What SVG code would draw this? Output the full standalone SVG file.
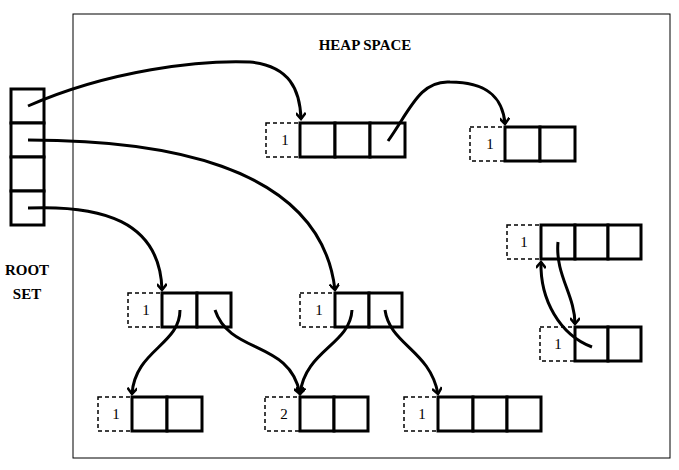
<svg xmlns="http://www.w3.org/2000/svg" width="679" height="470" viewBox="0 0 679 470">
<style>
.c{fill:#fff;stroke:#000;stroke-width:3}
.d{fill:none;stroke:#000;stroke-width:1.5;stroke-dasharray:4 3}
.n{font-family:"Liberation Serif",serif;font-size:15px;text-anchor:middle}
.t{font-family:"Liberation Serif",serif;font-size:15px;font-weight:bold;text-anchor:middle}
.a{fill:none;stroke:#000;stroke-width:3;marker-end:url(#m)}
</style>
<defs><marker id="m" markerWidth="10" markerHeight="10" refX="7" refY="5" orient="auto" markerUnits="userSpaceOnUse" viewBox="0 0 10 10"><path d="M1,0 L7,5 L1,10" fill="none" stroke="#000" stroke-width="2.5"/></marker></defs>
<rect width="679" height="470" fill="#fff"/>
<rect x="73" y="14" width="597" height="444" fill="none" stroke="#000" stroke-width="1"/>
<text class="t" x="365" y="50">HEAP SPACE</text>
<g id="root"><rect class="c" x="11" y="89" width="33" height="34"/><rect class="c" x="11" y="123" width="33" height="34"/><rect class="c" x="11" y="157" width="33" height="34"/><rect class="c" x="11" y="191" width="33" height="34"/>
<text class="t" x="27" y="275">ROOT</text><text class="t" x="27" y="299">SET</text></g>
<g id="A"><rect class="d" x="266" y="123" width="34" height="34"/><text class="n" x="285" y="145">1</text><rect class="c" x="300" y="123" width="35" height="34"/><rect class="c" x="335" y="123" width="35" height="34"/><rect class="c" x="370" y="123" width="35" height="34"/></g>
<g id="B"><rect class="d" x="470" y="127" width="35" height="34"/><text class="n" x="490" y="149">1</text><rect class="c" x="505" y="127" width="35" height="34"/><rect class="c" x="540" y="127" width="35" height="34"/></g>
<g id="C"><rect class="d" x="507" y="225" width="34" height="34"/><text class="n" x="524" y="247">1</text><rect class="c" x="541" y="225" width="34" height="34"/><rect class="c" x="575" y="225" width="33" height="34"/><rect class="c" x="608" y="225" width="33" height="34"/></g>
<g id="D"><rect class="d" x="540" y="327" width="35" height="34"/><text class="n" x="558" y="349">1</text><rect class="c" x="575" y="327" width="33" height="34"/><rect class="c" x="608" y="327" width="33" height="34"/></g>
<g id="E"><rect class="d" x="128" y="293" width="34" height="34"/><text class="n" x="146" y="315">1</text><rect class="c" x="162" y="293" width="35" height="34"/><rect class="c" x="197" y="293" width="34" height="34"/></g>
<g id="F"><rect class="d" x="300" y="293" width="35" height="34"/><text class="n" x="319" y="315">1</text><rect class="c" x="335" y="293" width="34" height="34"/><rect class="c" x="369" y="293" width="33" height="34"/></g>
<g id="G"><rect class="d" x="98" y="397" width="34" height="34"/><text class="n" x="116" y="419">1</text><rect class="c" x="132" y="397" width="35" height="34"/><rect class="c" x="167" y="397" width="35" height="34"/></g>
<g id="H"><rect class="d" x="265" y="397" width="35" height="34"/><text class="n" x="284" y="419">2</text><rect class="c" x="300" y="397" width="34" height="34"/><rect class="c" x="334" y="397" width="34" height="34"/></g>
<g id="I"><rect class="d" x="404" y="397" width="34" height="34"/><text class="n" x="422" y="419">1</text><rect class="c" x="438" y="397" width="35" height="34"/><rect class="c" x="473" y="397" width="34" height="34"/><rect class="c" x="507" y="397" width="34" height="34"/></g>
<g id="connectors">
<path class="a" d="M28,106 C110,70 200,60 250,62 C290,66 300,90 301,119"/>
<path class="a" d="M28,140 C150,140 320,160 335,290"/>
<path class="a" d="M28,208 C100,205 160,220 162,290"/>
<path class="a" d="M388,141 C410,110 420,80 450,82 C490,82 503,100 505,124"/>
<path class="a" d="M180,310 C180,345 135,350 132,394"/>
<path class="a" d="M215,310 C230,355 290,340 300,394"/>
<path class="a" d="M352,310 C350,345 305,350 300,394"/>
<path class="a" d="M385,310 C390,345 430,350 438,394"/>
<path class="a" d="M558,242 C555,275 575,295 575,324"/>
<path class="a" d="M592,347 C560,335 540,300 541,262"/>
</g>
</svg>
